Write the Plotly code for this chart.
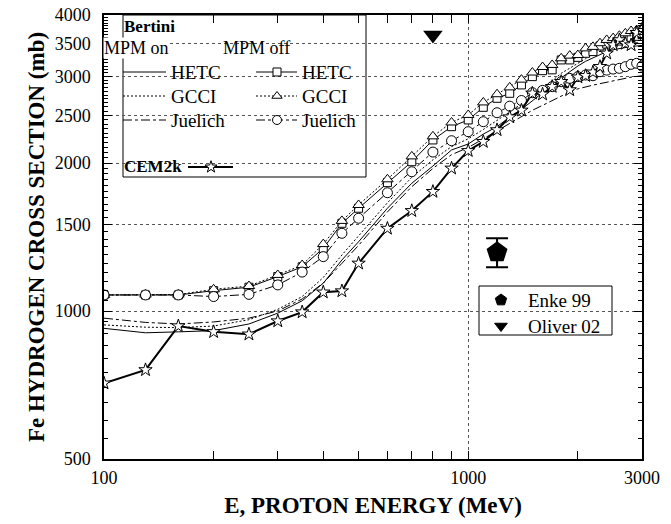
import math
import plotly.graph_objects as go

# ---------------- data ----------------
energy = [100, 130, 160, 200, 250, 300, 350, 400, 450, 500, 600, 700, 800, 900,
          1000, 1100, 1200, 1300, 1400, 1500, 1600, 1700, 1800, 1900, 2000,
          2100, 2200, 2300, 2400, 2500, 2600, 2700, 2800, 2900, 3000]

# Bertini, MPM off (with markers)
hetc_off = [1078, 1078, 1078, 1100, 1118, 1175, 1230, 1341, 1508, 1618, 1824, 2012, 2228, 2371,
            2447, 2596, 2708, 2772, 2883, 2997, 3082, 3094, 3241, 3241, 3280,
            3343, 3370, 3460, 3490, 3505, 3540, 3570, 3600, 3620, 3650]
gcci_off = [1078, 1080, 1080, 1107, 1124, 1184, 1240, 1368, 1525, 1643, 1853, 2063, 2266, 2418,
            2505, 2656, 2760, 2850, 2955, 3055, 3135, 3166, 3266, 3307, 3316,
            3421, 3445, 3505, 3559, 3590, 3630, 3671, 3711, 3727, 3758]
juelich_off = [1078, 1078, 1078, 1070, 1081, 1130, 1200, 1290, 1439, 1544, 1740, 1920, 2105, 2220,
               2316, 2427, 2531, 2610, 2680, 2780, 2810, 2860, 2927, 2973, 2997,
               3020, 3010, 3067, 3090, 3105, 3116, 3140, 3175, 3190, 3150]

# Bertini, MPM on (lines only)
hetc_on = [922, 903, 907, 912, 941, 990, 1049, 1139, 1270, 1383, 1618, 1819, 1972, 2126,
           2186, 2290, 2371, 2480, 2570, 2680, 2780, 2880, 2980, 3070, 3150,
           3220, 3270, 3320, 3370, 3400, 3420, 3440, 3450, 3460, 3470]
gcci_on = [937, 927, 925, 932, 960, 1008, 1070, 1170, 1300, 1420, 1660, 1870, 2030, 2160,
           2240, 2340, 2440, 2540, 2640, 2740, 2840, 2940, 3044, 3120, 3190,
           3260, 3320, 3380, 3430, 3480, 3530, 3580, 3614, 3650, 3680]
juelich_on = [967, 948, 941, 950, 967, 1000, 1058, 1140, 1250, 1360, 1590, 1790, 1950, 2080,
              2150, 2240, 2320, 2400, 2480, 2560, 2620, 2680, 2740, 2790, 2830,
              2860, 2880, 2900, 2920, 2940, 2960, 2975, 2990, 3000, 3010]

# CEM2k
cem2k = [713, 759, 932, 907, 897, 954, 995, 1092, 1098, 1250, 1472, 1599, 1749, 1951,
         2118, 2210, 2335, 2480, 2560, 2772, 2760, 2860, 2927, 2816, 2990,
         3010, 3060, 3140, 3343, 3476, 3559, 3500, 3476, 3682, 3740]

# experiments
enke_e = [1200]
enke_xs = [1316]
enke_err_plus = [90]
enke_err_minus = [89]
oliver_e = [800]
oliver_xs = [3643]

x_ticks = [100, 1000, 3000]
x_minor = [200, 300, 400, 500, 600, 700, 800, 900, 2000]
y_ticks = [500, 1000, 1500, 2000, 2500, 3000, 3500, 4000]
y_minor = [v for v in range(550, 4000, 50) if v % 500 != 0]

FONT = "Liberation Serif"
DOT = "2px,2px"

# plot area in pixels
L, R, T, B = 104, 642, 15, 459
W, H = 671, 524


def fx(px):
    return (px - L) / (R - L)


def fy(py):
    return (B - py) / (B - T)


fig = go.Figure()


def curve(y, dash, width=1.0, symbol=None, size=None):
    kw = dict(x=energy, y=y, showlegend=False, hoverinfo="skip",
              line=dict(color="black", width=width, dash=dash))
    if symbol:
        kw["mode"] = "lines+markers"
        kw["marker"] = dict(symbol=symbol, size=size, color="white",
                            line=dict(color="black", width=1))
    else:
        kw["mode"] = "lines"
    fig.add_trace(go.Scatter(**kw))


curve(hetc_on, "solid")
curve(gcci_on, DOT)
curve(juelich_on, "dashdot")
curve(hetc_off, "solid", symbol="square", size=8)
curve(gcci_off, DOT, symbol="triangle-up", size=10)
curve(juelich_off, "dashdot", symbol="circle", size=10)
curve(cem2k, "solid", width=2, symbol="star", size=10)

fig.add_trace(go.Scatter(
    x=enke_e, y=enke_xs, mode="markers", showlegend=False,
    marker=dict(symbol="pentagon", size=22, color="black"),
    error_y=dict(type="data", array=enke_err_plus, arrayminus=enke_err_minus,
                 color="black", thickness=2, width=11)))
fig.add_trace(go.Scatter(
    x=oliver_e, y=oliver_xs, mode="markers", showlegend=False,
    marker=dict(symbol="triangle-down", size=17, color="black")))

# ---------------- custom legends (overlay axes in plot fraction) ----------------
def glyph_line(x0, x1, yy, dash, width=1.0):
    fig.add_trace(go.Scatter(x=[fx(x0), fx(x1)], y=[fy(yy), fy(yy)], mode="lines",
                             xaxis="x2", yaxis="y2", showlegend=False, hoverinfo="skip",
                             line=dict(color="black", width=width, dash=dash)))


def glyph_marker(xx, yy, symbol, size, fill="white"):
    fig.add_trace(go.Scatter(x=[fx(xx)], y=[fy(yy)], mode="markers",
                             xaxis="x2", yaxis="y2", showlegend=False, hoverinfo="skip",
                             marker=dict(symbol=symbol, size=size, color=fill,
                                         line=dict(color="black", width=1))))


rows = [("HETC", 72, "solid", "square", 8),
        ("GCCI", 96, DOT, "triangle-up", 9),
        ("Juelich", 120, "dashdot", "circle", 9)]

annotations = []


def text(s, px, py, size=19, bold=False, bg=None):
    a = dict(text=("<b>%s</b>" % s) if bold else s,
             x=fx(px), y=fy(py), xref="paper", yref="paper",
             xanchor="left", yanchor="middle", showarrow=False,
             font=dict(family=FONT, size=size, color="black"), borderpad=0)
    if bg:
        a["bgcolor"] = bg
    annotations.append(a)


for name, yy, dash, sym, sz in rows:
    glyph_line(123, 166, yy, dash)
    text(name, 170, yy)
    glyph_line(256, 297, yy, dash)
    glyph_marker(277, yy, sym, sz)
    text(name, 301, yy)

glyph_line(188, 233, 167, "solid", 2)
glyph_marker(211, 167, "star", 9)

text("Bertini", 123, 27, size=17, bold=True)
text("MPM on", 103, 48, size=18, bg="white")
text("MPM off", 222, 48, size=18)
text("CEM2k", 123, 167, size=17, bold=True)

glyph_marker(501, 300, "pentagon", 12, fill="black")
glyph_marker(501, 326, "triangle-down", 11, fill="black")
text("Enke 99", 527, 300)
text("Oliver 02", 527, 326)

shapes = [
    dict(type="rect", xref="paper", yref="paper", x0=fx(123), x1=fx(366), y0=fy(177), y1=fy(15),
         line=dict(color="black", width=1), fillcolor="white", layer="between"),
    dict(type="rect", xref="paper", yref="paper", x0=fx(479), x1=fx(612), y0=fy(335), y1=fy(286),
         line=dict(color="black", width=1), fillcolor="white", layer="between"),
]

axis_common = dict(showline=True, linecolor="black", linewidth=1.5, mirror="ticks",
                   ticks="inside", ticklen=8, tickwidth=1, tickcolor="black",
                   showgrid=True, gridcolor="#555555", griddash="dot", gridwidth=1,
                   zeroline=False, tickfont=dict(family=FONT, size=18, color="black"),
                   automargin=False)

fig.update_layout(
    width=W, height=H,
    margin=dict(l=L, r=W - R, t=T, b=H - B),
    paper_bgcolor="white", plot_bgcolor="white",
    font=dict(family=FONT, color="black"),
    showlegend=False,
    xaxis=dict(type="log", range=[math.log10(100), math.log10(3000)],
               tickmode="array", tickvals=x_ticks, ticktext=[str(v) for v in x_ticks],
               minor=dict(tickmode="array", tickvals=x_minor, ticks="inside", ticklen=8,
                          tickcolor="black", showgrid=False),
               ticklabelstandoff=2,
               title=dict(text="<b>E, PROTON ENERGY (MeV)</b>",
                          font=dict(family=FONT, size=23, color="black"), standoff=10),
               **axis_common),
    yaxis=dict(type="log", range=[math.log10(500), math.log10(4000)],
               tickmode="array", tickvals=y_ticks, ticktext=[str(v) for v in y_ticks],
               minor=dict(tickmode="array", tickvals=y_minor, ticks="inside", ticklen=4,
                          tickcolor="black", showgrid=False),
               ticklabelstandoff=8,
               title=dict(text="<b>Fe HYDROGEN CROSS SECTION (mb)</b>",
                          font=dict(family=FONT, size=23, color="black"), standoff=4),
               **axis_common),
    xaxis2=dict(overlaying="x", range=[0, 1], visible=False, fixedrange=True),
    yaxis2=dict(overlaying="y", range=[0, 1], visible=False, fixedrange=True),
    annotations=annotations,
    shapes=shapes,
)

fig.write_html("out.html")
